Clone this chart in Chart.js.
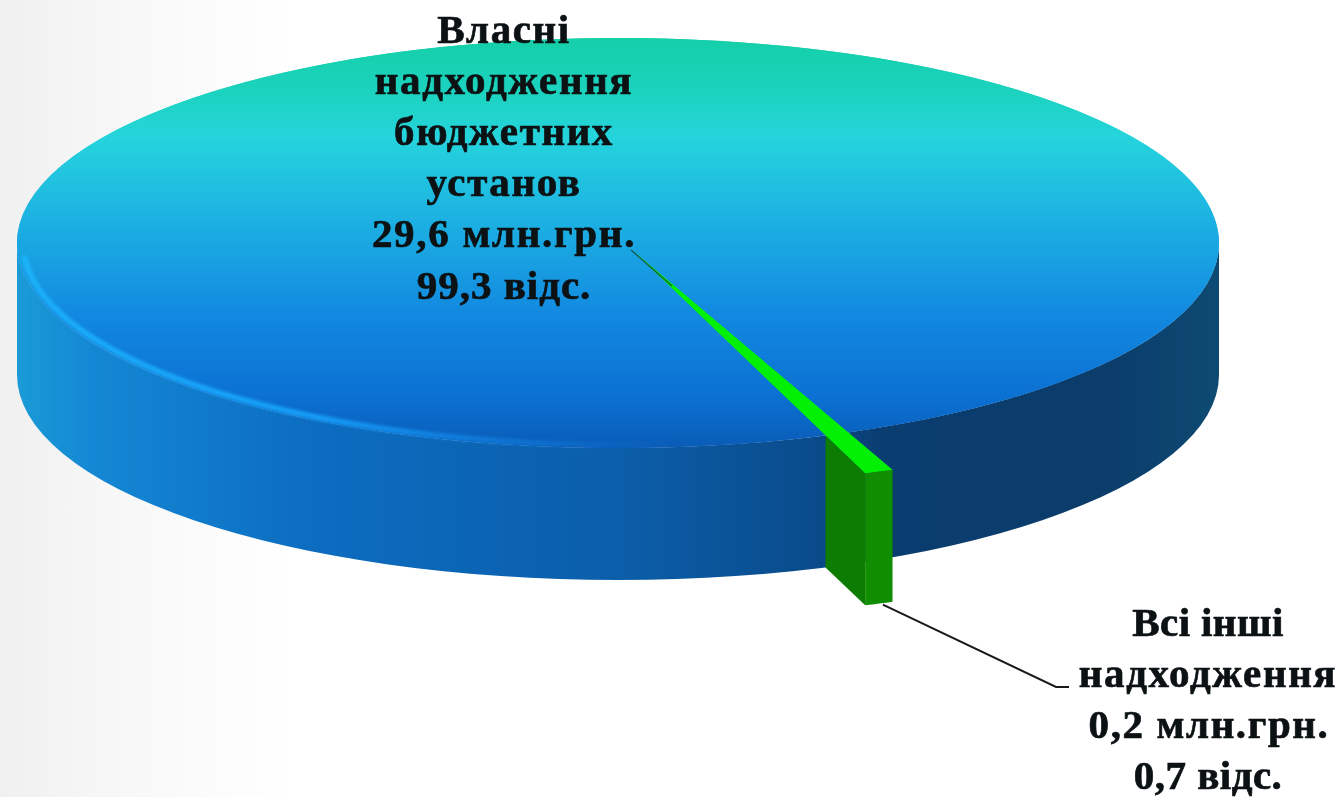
<!DOCTYPE html>
<html><head><meta charset="utf-8">
<style>
html,body{margin:0;padding:0;width:1342px;height:797px;overflow:hidden;background:linear-gradient(90deg,#f0f0f0 0,#f7f7f7 110px,#ffffff 290px,#ffffff 100%);}
canvas{display:block;filter:blur(0.6px);}
</style>
<script src="https://cdn.jsdelivr.net/npm/chart.js@4"></script>
</head><body><canvas id="c" width="1342" height="797"></canvas>
<script>
const categories = ["Власні надходження бюджетних установ", "Всі інші надходження"];
const amounts = [29.6, 0.2];
const amountLabels = ["29,6 млн.грн.", "0,2 млн.грн."];
const percentLabels = ["99,3 відс.", "0,7 відс."];
const labelLines0 = ["Власні", "надходження", "бюджетних", "установ"];
const labelLines1 = ["Всі інші", "надходження"];

// Projection of the round pie to the tilted ellipse on the screen
const ELL = {x: 618, y: 243, rx: 601, ry: 205, depth: 132, rotation: 160.4,
             tipX: 632, tipY: 250, wedgeR: 695};

let view = null;
function makeView(chart){
  const el = chart.getDatasetMeta(0).data[0];
  const R = el.outerRadius, cx = el.x, cy = el.y;
  view = {R, cx, cy, kx: ELL.rx / R, ky: ELL.ry / R,
    sx(x){return ELL.x + (x - cx) * this.kx;},
    sy(y){return ELL.y + (y - cy) * this.ky;}};
  return view;
}
function applyView(ctx){
  ctx.translate(ELL.x, ELL.y);
  ctx.scale(view.kx, view.ky);
  ctx.translate(-view.cx, -view.cy);
}
function topGradient(ctx, chart){
  const h = chart.height / 2, R = Math.min(chart.width, chart.height) / 2;
  const g = ctx.createLinearGradient(0, h - R, 0, h + R);
  g.addColorStop(0.00, "#14cfa8");
  g.addColorStop(0.14, "#1cd3c0");
  g.addColorStop(0.24, "#25d4dc");
  g.addColorStop(0.45, "#1cb0e2");
  g.addColorStop(0.68, "#1288e0");
  g.addColorStop(0.88, "#0b70d2");
  g.addColorStop(1.00, "#0a5cb6");
  return g;
}

const pie3d = {
  id: "pie3d",
  afterDatasetsUpdate(chart){
    const v = makeView(chart);
    const w = chart.getDatasetMeta(0).data[1];
    w.outerRadius = v.R * ELL.wedgeR / ELL.rx;
    w.x = v.cx + (ELL.tipX - ELL.x) / v.kx;
    w.y = v.cy + (ELL.tipY - ELL.y) / v.ky;
  },
  beforeDatasetsDraw(chart){
    const ctx = chart.ctx, v = view, d = ELL.depth;
    const [big, w] = chart.getDatasetMeta(0).data;
    // side wall of the big slice
    const g = ctx.createLinearGradient(ELL.x - ELL.rx, 0, ELL.x + ELL.rx, 0);
    g.addColorStop(0.00, "#1a9bd6");
    g.addColorStop(0.06, "#1488d4");
    g.addColorStop(0.25, "#0c6cc0");
    g.addColorStop(0.50, "#0b5eaa");
    g.addColorStop(0.66, "#0a4c8c");
    g.addColorStop(0.72, "#0a3d70");
    g.addColorStop(0.90, "#0b3c6a");
    g.addColorStop(1.00, "#0d4a72");
    ctx.save();
    ctx.beginPath();
    ctx.ellipse(ELL.x, ELL.y + d, ELL.rx, ELL.ry, 0, 0, Math.PI);
    ctx.lineTo(ELL.x - ELL.rx, ELL.y);
    ctx.ellipse(ELL.x, ELL.y, ELL.rx, ELL.ry, 0, Math.PI, 0, true);
    ctx.closePath();
    ctx.fillStyle = g;
    ctx.fill();

    // cut face of the small slice: from the big rim outward
    const P = (a, r) => [v.sx(w.x + r * Math.cos(a)), v.sy(w.y + r * Math.sin(a))];
    const a = w.endAngle, ux = Math.cos(a), uy = Math.sin(a);
    const ox = w.x - big.x, oy = w.y - big.y;
    const b = ox * ux + oy * uy, c = ox * ox + oy * oy - v.R * v.R;
    const t = -b + Math.sqrt(b * b - c);
    const p0 = P(a, t), p1 = P(a, w.outerRadius);
    ctx.beginPath();
    ctx.moveTo(p0[0], p0[1]);
    ctx.lineTo(p1[0], p1[1]);
    ctx.lineTo(p1[0], p1[1] + d);
    ctx.lineTo(p0[0], p0[1] + d);
    ctx.closePath();
    ctx.fillStyle = "#0c7d02";
    ctx.fill();
    // outer wall of the small slice
    ctx.beginPath();
    const n = 6, pts = [];
    for (let i = 0; i <= n; i++) pts.push(P(w.startAngle + (w.endAngle - w.startAngle) * i / n, w.outerRadius));
    pts.forEach((p, i) => i ? ctx.lineTo(p[0], p[1]) : ctx.moveTo(p[0], p[1]));
    pts.slice().reverse().forEach(p => ctx.lineTo(p[0], p[1] + d));
    ctx.closePath();
    ctx.fillStyle = "#118d02";
    ctx.fill();
    ctx.restore();

    ctx.save();
    applyView(ctx);
    // closes the hairline between the big slice and the small slice's shifted apex
    ctx.beginPath();
    ctx.arc(big.x, big.y, big.outerRadius, 0, Math.PI * 2);
    ctx.fillStyle = topGradient(ctx, chart);
    ctx.fill();
  },
  afterDatasetsDraw(chart){
    const ctx = chart.ctx, v = view;
    ctx.restore();
    const w = chart.getDatasetMeta(0).data[1];

    // light rim of the top face
    ctx.save();
    const hg = ctx.createLinearGradient(ELL.x - ELL.rx, 0, ELL.x + 60, 0);
    hg.addColorStop(0, "rgba(30,185,255,0.8)");
    hg.addColorStop(0.45, "rgba(24,165,255,0.85)");
    hg.addColorStop(1, "rgba(20,130,240,0)");
    ctx.filter = "blur(1.6px)";
    ctx.strokeStyle = hg;
    ctx.lineWidth = 6;
    ctx.beginPath();
    ctx.ellipse(ELL.x, ELL.y, ELL.rx - 6, ELL.ry - 3, 0, Math.PI * 0.47, Math.PI * 0.98);
    ctx.stroke();
    ctx.restore();

    // leader lines
    const am = (w.startAngle + w.endAngle) / 2;
    const lx = v.sx(w.x + w.outerRadius * Math.cos(am)) + 4, ly = v.sy(w.y + w.outerRadius * Math.sin(am)) + ELL.depth + 1;
    ctx.save();
    ctx.strokeStyle = "#1a1a1a";
    ctx.lineWidth = 2;
    ctx.beginPath();
    ctx.moveTo(lx, ly);
    ctx.lineTo(1056, 687);
    ctx.lineTo(1069, 687);
    ctx.stroke();
    ctx.strokeStyle = "rgba(20,60,60,0.8)";
    ctx.lineWidth = 1.1;
    ctx.beginPath();
    ctx.moveTo(ELL.tipX - 1, ELL.tipY);
    ctx.lineTo(ELL.tipX + 40, ELL.tipY + 36);
    ctx.stroke();
    ctx.restore();

    // data labels
    ctx.save();
    ctx.fillStyle = "#0c1214";
    ctx.strokeStyle = "#0c1214";
    ctx.lineWidth = 0.7;
    ctx.font = "bold 41px 'Liberation Serif', serif";
    ctx.textAlign = "center";
    ctx.textBaseline = "alphabetic";
    const put = (s, x, y, ls) => {
      ctx.letterSpacing = ls + "px";
      ctx.fillText(s, x, y); ctx.strokeText(s, x, y);
    };
    const x0 = 504, y0 = 42.5, dy0 = 51.2;
    labelLines0.forEach((s, i) => put(s, x0, y0 + i * dy0, 1.6));
    put(amountLabels[0], x0, y0 + 4 * dy0, 1.7);
    put(percentLabels[0], x0, y0 + 5 * dy0, 1.0);
    const x1 = 1208, y1 = 635.5, dy1 = 51.1;
    put(labelLines1[0], x1, y1, 0.4);
    put(labelLines1[1], x1, y1 + dy1, 1.6);
    put(amountLabels[1], x1 + 1, y1 + 2 * dy1, 1.6);
    put(percentLabels[1], x1, y1 + 3 * dy1, 0.5);
    ctx.restore();
  }
};

new Chart(document.getElementById("c"), {
  type: "pie",
  data: {
    labels: categories,
    datasets: [{
      data: amounts,
      clip: false,
      borderWidth: 0,
      backgroundColor: (c) => c.dataIndex === 0 ? topGradient(c.chart.ctx, c.chart) : "#03f004"
    }]
  },
  options: {
    responsive: false,
    animation: false,
    events: [],
    rotation: ELL.rotation,
    layout: {padding: 0},
    plugins: {legend: {display: false}, tooltip: {enabled: false}, title: {display: false}}
  },
  plugins: [pie3d]
});
</script>
</body></html>
